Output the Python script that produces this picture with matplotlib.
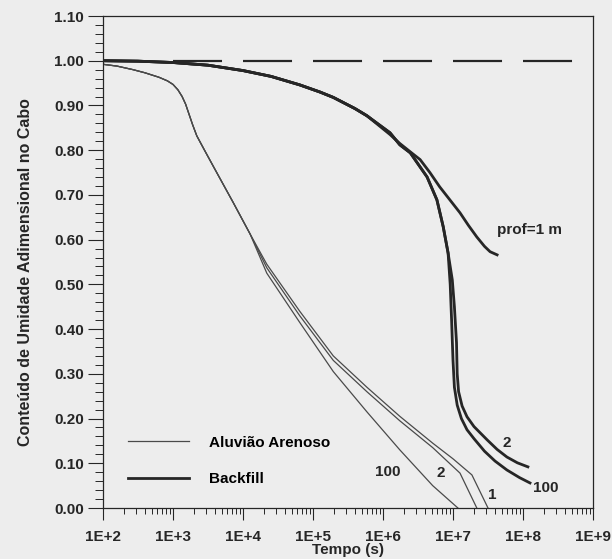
import numpy as np
import matplotlib
matplotlib.use("Agg")
import matplotlib.pyplot as plt
from matplotlib.ticker import FixedLocator, LogLocator, MultipleLocator, NullFormatter

plt.rcParams['font.family'] = ['Liberation Sans', 'DejaVu Sans']
plt.rcParams['font.weight'] = 'bold'
plt.rcParams['axes.labelweight'] = 'bold'
plt.rcParams['lines.scale_dashes'] = False

# log10(tempo) e conteudo de umidade adimensional
# Backfill (linhas grossas)
bf1_logt = [2.0, 2.5, 3.0, 3.5, 4.0, 4.4, 4.81, 5.1, 5.29, 5.6, 5.77, 6.1, 6.24,
            6.4, 6.53, 6.67, 6.81, 6.96, 7.1, 7.22, 7.34, 7.45, 7.53, 7.63]
bf1_val = [1.0, 0.999, 0.996, 0.99, 0.978, 0.965, 0.946, 0.93, 0.918, 0.893, 0.877, 0.835, 0.815,
           0.795, 0.779, 0.75, 0.718, 0.688, 0.66, 0.632, 0.606, 0.585, 0.573, 0.566]

bf2_logt = [2.0, 2.5, 3.0, 3.5, 4.0, 4.4, 4.81, 5.1, 5.29, 5.6, 5.77, 6.1, 6.24, 6.39, 6.63, 6.77,
            6.86, 6.93, 6.99, 7.02, 7.05, 7.06, 7.08, 7.13, 7.2, 7.3, 7.49, 7.63, 7.77, 7.92, 8.07]
bf2_val = [1.0, 0.999, 0.996, 0.99, 0.978, 0.965, 0.946, 0.93, 0.918, 0.893, 0.877, 0.839, 0.812, 0.794, 0.74, 0.689,
           0.629, 0.57, 0.51, 0.45, 0.37, 0.30, 0.26, 0.228, 0.204, 0.182, 0.152, 0.131, 0.114, 0.101, 0.092]

bf100_logt = [2.0, 2.5, 3.0, 3.5, 4.0, 4.4, 4.81, 5.1, 5.29, 5.6, 5.77, 6.1, 6.24, 6.39, 6.63, 6.77,
              6.86, 6.93, 6.96, 6.98, 7.0, 7.02, 7.06, 7.12, 7.2, 7.3, 7.45, 7.6, 7.77, 7.95, 8.1]
bf100_val = [1.0, 0.999, 0.996, 0.99, 0.978, 0.965, 0.946, 0.93, 0.918, 0.893, 0.877, 0.839, 0.812, 0.794, 0.74, 0.689,
             0.629, 0.57, 0.50, 0.42, 0.33, 0.27, 0.23, 0.20, 0.175, 0.155, 0.127, 0.105, 0.085, 0.068, 0.056]

# Aluviao Arenoso (linhas finas)
al_common_logt = [2.0, 2.2, 2.43, 2.6, 2.8, 2.92, 3.0, 3.07, 3.13, 3.18, 3.23, 3.28, 3.34, 3.45, 3.6, 3.86, 4.1]
al_common_val = [0.992, 0.988, 0.98, 0.973, 0.963, 0.955, 0.947, 0.935, 0.92, 0.903, 0.88, 0.857, 0.832, 0.80,
                 0.757, 0.683, 0.613]

al1_logt = al_common_logt + [4.34, 4.81, 5.29, 5.77, 6.24, 6.71, 7.0, 7.27, 7.5]
al1_val = al_common_val + [0.545, 0.44, 0.34, 0.27, 0.205, 0.145, 0.11, 0.074, 0.0]

al2_logt = al_common_logt + [4.34, 4.81, 5.29, 5.77, 6.24, 6.71, 7.1, 7.34]
al2_val = al_common_val + [0.537, 0.43, 0.33, 0.26, 0.195, 0.135, 0.078, 0.0]

al100_logt = al_common_logt + [4.34, 4.81, 5.29, 5.77, 6.24, 6.71, 7.07]
al100_val = al_common_val + [0.525, 0.415, 0.305, 0.215, 0.13, 0.05, 0.0]

# linha tracejada em 1.0
dash_logt = [3.0, 8.74]
dash_val = [1.0, 1.0]

xtick_exp = [2, 3, 4, 5, 6, 7, 8, 9]
xtick_labels = ["1E+%d" % e for e in xtick_exp]

dark = "#262626"
thin_c = "#4a4a4a"
bg = "#ededed"
fs = 11

fig = plt.figure(figsize=(6.12, 5.59), dpi=100, facecolor=bg)
ax = fig.add_axes([103 / 612, 1 - 508 / 559, 490 / 612, 492 / 559], facecolor=bg)

def t(logt):
    return 10 ** np.array(logt)

ax.plot(t(al1_logt), al1_val, color=thin_c, lw=0.9, label="Aluvião Arenoso")
ax.plot(t(al2_logt), al2_val, color=thin_c, lw=0.9)
ax.plot(t(al100_logt), al100_val, color=thin_c, lw=0.9)

ax.plot(t(bf1_logt), bf1_val, color=dark, lw=2.0, label="Backfill")
ax.plot(t(bf2_logt), bf2_val, color=dark, lw=2.0)
ax.plot(t(bf100_logt), bf100_val, color=dark, lw=2.0)
ax.plot(t(dash_logt), dash_val, color=dark, lw=1.6, dashes=(35.3, 15.1))

ax.set_xscale("log")
ax.set_xlim(1e2, 1e9)
ax.set_ylim(0, 1.1)

ax.xaxis.set_major_locator(FixedLocator(t(xtick_exp)))
ax.set_xticklabels(xtick_labels)
ax.xaxis.set_minor_locator(LogLocator(base=10, subs=np.arange(2, 10)))
ax.xaxis.set_minor_formatter(NullFormatter())
ax.yaxis.set_major_locator(MultipleLocator(0.1))
ax.yaxis.set_minor_locator(MultipleLocator(0.02))
ax.yaxis.set_major_formatter(plt.FormatStrFormatter("%.2f"))

ax.tick_params(axis="y", which="major", direction="out", length=10.8, width=0.8, pad=3.0,
               labelsize=fs, colors=dark)
ax.tick_params(axis="y", which="minor", direction="out", length=5.5, width=0.7, colors=dark)
ax.tick_params(axis="x", which="major", direction="out", length=8.6, width=0.8, pad=7.5,
               labelsize=fs, colors=dark)
ax.tick_params(axis="x", which="minor", direction="out", length=4.3, width=0.7, colors=dark)

for s in ax.spines.values():
    s.set_color(dark)
    s.set_linewidth(0.9)

ax.set_xlabel("Tempo (s)", fontsize=fs, labelpad=-1, color=dark)
ax.set_ylabel("Conteúdo de Umidade Adimensional no Cabo", fontsize=11.5, color=dark)
ax.yaxis.set_label_coords(-0.143, 0.48)

ax.text(10 ** 7.63, 0.622, "prof=1 m", fontsize=fs, ha="left", va="center", color=dark)
ax.text(10 ** 7.77, 0.145, "2", fontsize=fs, ha="center", va="center", color=dark)
ax.text(10 ** 8.14, 0.045, "100", fontsize=fs, ha="left", va="center", color=dark)
ax.text(10 ** 6.07, 0.081, "100", fontsize=fs, ha="center", va="center", color=dark)
ax.text(10 ** 6.83, 0.078, "2", fontsize=fs, ha="center", va="center", color=dark)
ax.text(10 ** 7.56, 0.029, "1", fontsize=fs, ha="center", va="center", color=dark)

ax.legend(loc="lower left", bbox_to_anchor=(0.05, 0.045), frameon=False, fontsize=fs,
          handlelength=4.05, handletextpad=1.3, labelspacing=1.45, borderpad=0, borderaxespad=0)

fig.savefig("out.png", dpi=100, facecolor=bg)
